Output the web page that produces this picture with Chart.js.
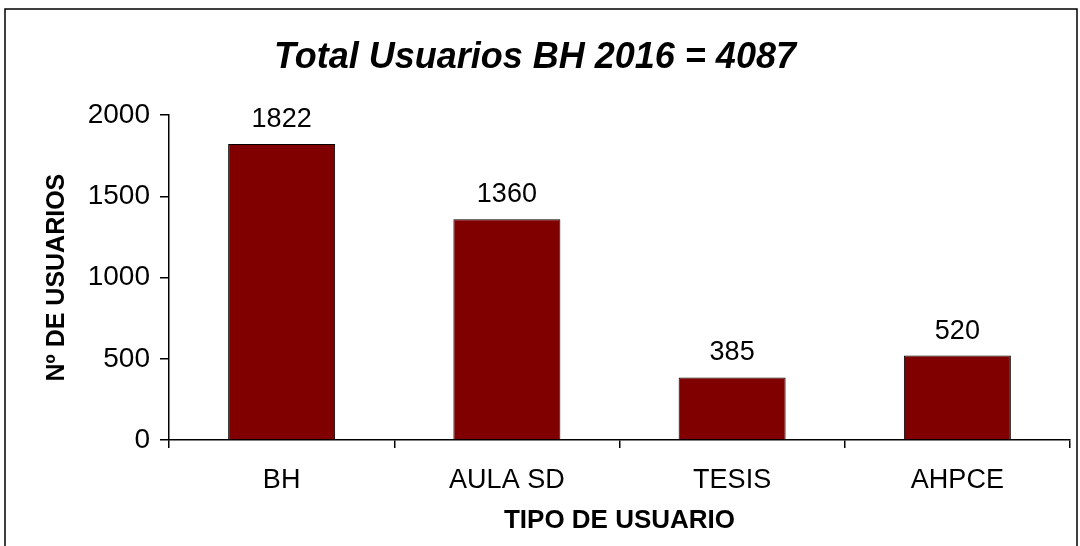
<!DOCTYPE html>
<html>
<head>
<meta charset="utf-8">
<script src="https://cdn.jsdelivr.net/npm/chart.js@4.4.1/dist/chart.umd.min.js"></script>
<style>
  html, body { margin: 0; padding: 0; background: #ffffff; }
  #wrap { position: absolute; left: 0; top: 0; width: 1080px; height: 546px; }
</style>
</head>
<body>
<div id="wrap"><canvas id="c" width="1080" height="546"></canvas></div>
<script>
const categories = ['BH', 'AULA SD', 'TESIS', 'AHPCE'];
const usuarios = [1822, 1360, 385, 520];
const yTicks = [0, 500, 1000, 1500, 2000];
const chartTitle = 'Total Usuarios BH 2016 = 4087';
const xTitle = 'TIPO DE USUARIO';
const yTitle = 'Nº DE USUARIOS';

const FONT = "'Liberation Sans', Arial, sans-serif";

const frame = {
  id: 'frame',
  afterDraw(chart) {
    const ctx = chart.ctx;
    ctx.save();
    ctx.strokeStyle = '#000';
    ctx.lineWidth = 1.5;
    ctx.strokeRect(5, 9, 1072, 600);
    ctx.restore();
  }
};

const valueLabels = {
  id: 'valueLabels',
  afterDatasetsDraw(chart) {
    const ctx = chart.ctx;
    const meta = chart.getDatasetMeta(0);
    ctx.save();
    ctx.fillStyle = '#000';
    ctx.font = '27px ' + FONT;
    ctx.textAlign = 'center';
    ctx.textBaseline = 'bottom';
    meta.data.forEach((bar, i) => {
      const p = bar.getProps(['x', 'y'], true);
      ctx.fillText(String(usuarios[i]), p.x, p.y - 11);
    });
    ctx.restore();
  }
};

new Chart(document.getElementById('c'), {
  type: 'bar',
  data: {
    labels: categories,
    datasets: [{
      data: usuarios,
      backgroundColor: '#800000',
      borderColor: '#000000',
      borderWidth: 1,
      categoryPercentage: 1,
      barPercentage: 0.475
    }]
  },
  options: {
    responsive: false,
    animation: false,
    devicePixelRatio: 1,
    layout: { padding: { left: 0, right: 10, top: 0, bottom: 0 } },
    plugins: {
      legend: { display: false },
      tooltip: { enabled: false },
      title: {
        display: true,
        text: chartTitle,
        color: '#000',
        font: { family: FONT, size: 36, weight: 'bold', style: 'italic' },
        padding: { top: 36, bottom: 36 }
      }
    },
    scales: {
      x: {
        offset: true,
        grid: { display: true, drawOnChartArea: false, drawTicks: true, tickLength: 8, tickColor: '#000', offset: true, lineWidth: 1.5 },
        border: { display: true, color: '#000', width: 1.5 },
        ticks: { color: '#000', font: { family: FONT, size: 27 }, padding: 16 },
        title: { display: true, text: xTitle, color: '#000', font: { family: FONT, size: 26, weight: 'bold' }, padding: { top: 4, bottom: 10 } },
        afterFit(scale) { scale.height = 106; }
      },
      y: {
        min: 0,
        max: 2000,
        afterBuildTicks(scale) { scale.ticks = yTicks.map(v => ({ value: v })); },
        grid: { display: true, drawOnChartArea: false, drawTicks: true, tickLength: 9, tickColor: '#000', lineWidth: 1.5 },
        border: { display: true, color: '#000', width: 1.5 },
        ticks: { color: '#000', font: { family: FONT, size: 28 }, padding: 10, callback: (v) => String(v) },
        title: { display: true, text: yTitle, color: '#000', font: { family: FONT, size: 25, weight: 'bold' }, padding: { top: 42, bottom: 0 } },
        afterFit(scale) { scale.width = 169; }
      }
    }
  },
  plugins: [frame, valueLabels]
});
</script>
</body>
</html>
